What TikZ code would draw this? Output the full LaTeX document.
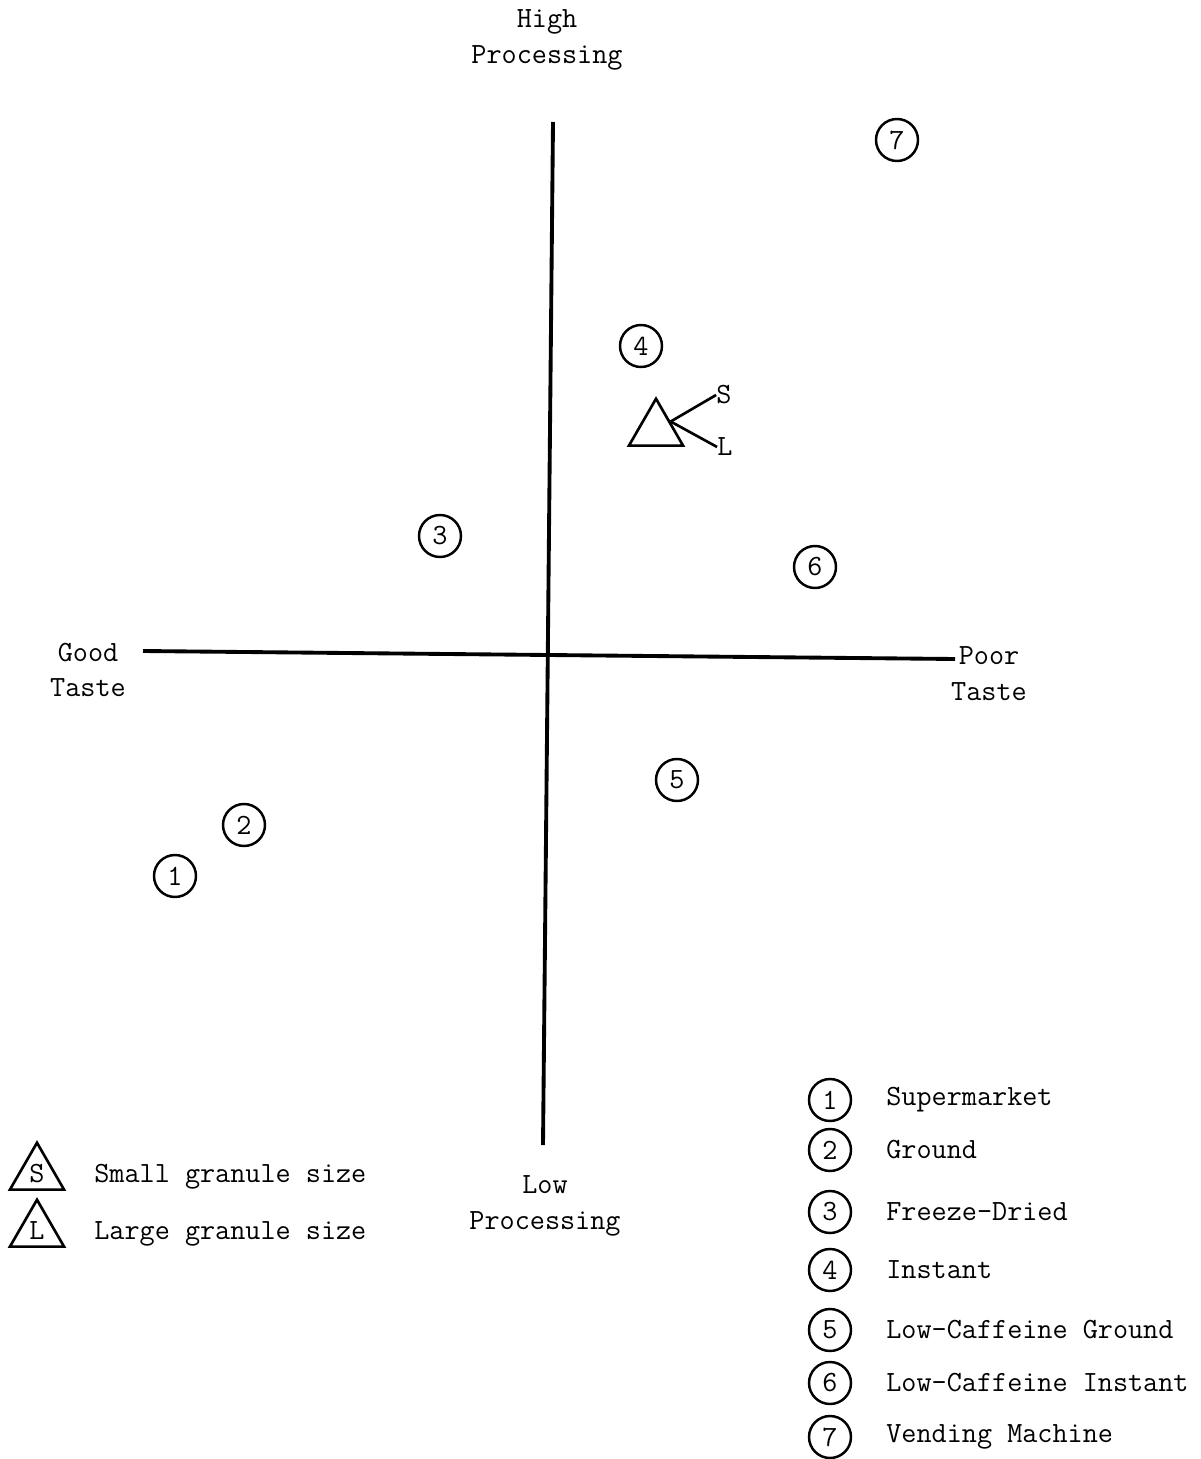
\documentclass[tikz,border=0pt]{standalone}
\usepackage{fontspec}
\usetikzlibrary{shapes.geometric}

\tikzset{
  num/.style={draw, circle, line width=1.4pt, minimum size=0.84cm, inner sep=0pt},
  tri/.style={draw, regular polygon, regular polygon sides=3, line width=1.5pt,
    minimum size=1.25cm, inner sep=0pt},
  lbl/.style={align=center, inner sep=0pt},
  axis/.style={line width=2.2pt}
}

\begin{document}
\begin{tikzpicture}[x=0.02cm, y=-0.02cm, font=\ttfamily\fontsize{16.7}{20.4}\selectfont]
\useasboundingbox (0,0) rectangle (1200,1459);

% axes
\coordinate (top) at (553,122);
\coordinate (bot) at (543,1145);
\coordinate (lft) at (143,651);
\coordinate (rgt) at (955,659);
\draw [axis] (top)--(bot);
\draw [axis] (lft)--(rgt);
\node[lbl] (high) at (547,40) {High\\Processing};
\node[lbl] (low) at (545,1206) {Low\\Processing};
\node[lbl] (good) at (88,670) {Good\\Taste};
\node[lbl] (poor) at (989,674) {Poor\\Taste};

% products
\foreach \n/\x/\y in {1/175/876, 2/244/825, 3/440/536, 4/641/346, 5/677/780, 6/815/567, 7/897/140}
{	\node[num] (p\n) at (\x,\y) {\n};
}

% granule sizes
\node[tri] (gran) at (656,430) {};
\node[inner sep=0pt] (s) at (724,395) {S};
\node[inner sep=0pt] (l) at (725,447) {L};
\draw [line width=1.5pt] (gran.side 3) -- (s.west);
\draw [line width=1.5pt] (gran.side 3) -- (l.west);

% legend
\node[tri] (ks) at (37,1174) {S};
\node[tri] (kl) at (37,1231) {L};
\node[anchor=west, inner sep=0pt] at (94,1177) {Small granule size};
\node[anchor=west, inner sep=0pt] at (94,1234) {Large granule size};
\foreach \n/\y/\t in {1/1100/Supermarket, 2/1150/Ground, 3/1212/Freeze-Dried, 4/1270/Instant,
  5/1330/Low-Caffeine Ground, 6/1383/Low-Caffeine Instant, 7/1437/Vending Machine}
{	\node[num] (k\n) at (830,\y) {\n};
	\node[anchor=west, inner sep=0pt] at (886,\y) {\t};
}
\end{tikzpicture}
\end{document}
